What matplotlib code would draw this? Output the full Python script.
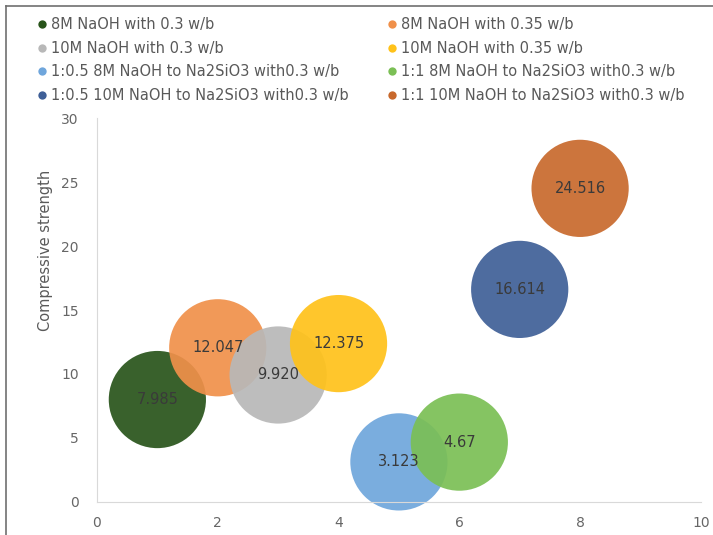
import matplotlib.pyplot as plt
from matplotlib.lines import Line2D

# mixes (legend names)
series = [
    "8M NaOH with 0.3 w/b",
    "8M NaOH with 0.35 w/b",
    "10M NaOH with 0.3 w/b",
    "10M NaOH with 0.35 w/b",
    "1:0.5 8M NaOH to Na2SiO3 with0.3 w/b",
    "1:1 8M NaOH to Na2SiO3 with0.3 w/b",
    "1:0.5 10M NaOH to Na2SiO3 with0.3 w/b",
    "1:1 10M NaOH to Na2SiO3 with0.3 w/b",
]
x_vals = [1, 2, 3, 4, 5, 6, 7, 8]
strength = [8.0, 12.047, 9.920, 12.375, 3.123, 4.67, 16.614, 24.516]
labels = ["7.985", "12.047", "9.920", "12.375", "3.123", "4.67", "16.614", "24.516"]
bubble = [1, 1, 1, 1, 1, 1, 1, 1]

colors = ["#28541a", "#f0904a", "#b8b8b8", "#ffc21a",
          "#6fa6dc", "#7bbf55", "#3f5f97", "#c8692c"]

plt.rcParams["font.family"] = ["DejaVu Sans"]

fig = plt.figure(figsize=(7.13, 5.35), dpi=100)
# frame line on the left and top only (rest is cut off in the reference)
fig.add_artist(Line2D([6 / 713, 6 / 713], [0, 1 - 6 / 535], color="#6f6f6f", lw=1.2))
fig.add_artist(Line2D([6 / 713, 1], [1 - 6 / 535, 1 - 6 / 535], color="#6f6f6f", lw=1.2))

ax = fig.add_axes([0.136, 0.062, 0.847, 0.717])

for i in range(len(series)):
    ax.scatter(x_vals[i], strength[i], s=4900 * bubble[i], color=colors[i],
               alpha=0.92, edgecolors="none", zorder=2, clip_on=False)
    ax.text(x_vals[i], strength[i], labels[i], ha="center", va="center",
            fontsize=10.5, color="#3a3a3a", zorder=3)

ax.set_xlim(0, 10)
ax.set_ylim(0, 30)
ax.set_xticks(range(0, 11, 2))
ax.set_yticks(range(0, 31, 5))
for s in ["top", "right"]:
    ax.spines[s].set_visible(False)
for s in ["left", "bottom"]:
    ax.spines[s].set_color("#d9d9d9")
ax.tick_params(length=0, colors="#666666", labelsize=10)
ax.tick_params(axis="y", pad=13)
ax.tick_params(axis="x", pad=10)
ax.set_ylabel("Compressive strength", fontsize=10.5, color="#595959")
ax.yaxis.set_label_coords(-0.073, 0.656)

handles = [Line2D([], [], marker="o", linestyle="none", markersize=6,
                  markerfacecolor=c, markeredgecolor="none") for c in colors]
order = [0, 2, 4, 6, 1, 3, 5, 7]
fig.legend([handles[i] for i in order], [series[i] for i in order],
           ncol=2, loc="upper left", bbox_to_anchor=(0.03, 0.993),
           frameon=False, fontsize=10.5, labelcolor="#595959",
           handletextpad=0.1, columnspacing=2.5, labelspacing=0.6,
           handlelength=1.0)

fig.savefig("out.png", dpi=100)
